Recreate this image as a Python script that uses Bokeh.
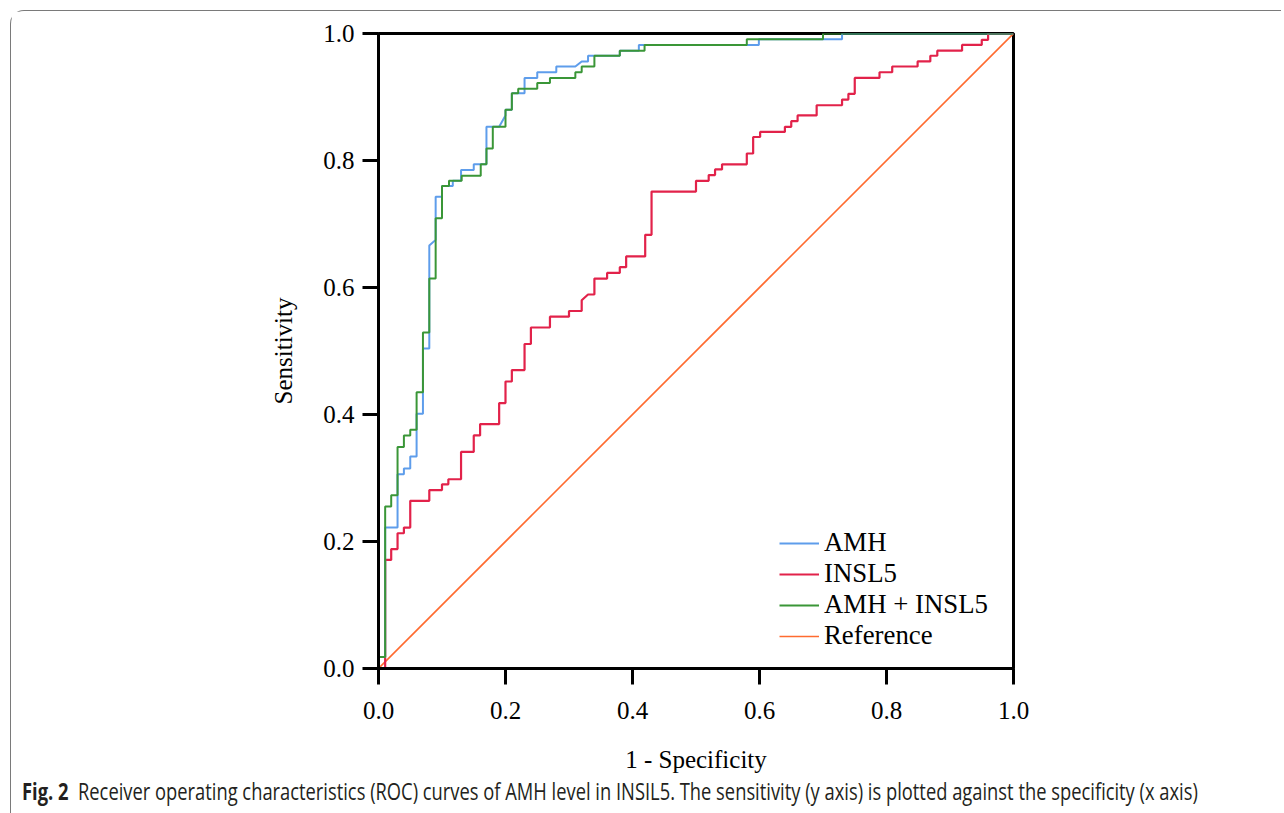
from bokeh.plotting import figure
from bokeh.models import Range1d, FixedTicker, PrintfTickFormatter, Legend, LegendItem, Div
from bokeh.layouts import column
from bokeh.embed import file_html
from bokeh.resources import INLINE

# ---- data (ROC vertices) ----
amh_fpr = [0, 0, 0.0105, 0.0105, 0.030, 0.030, 0.040, 0.040, 0.050, 0.050, 0.060, 0.060,
           0.070, 0.070, 0.080, 0.080, 0.090, 0.090, 0.100, 0.100, 0.117, 0.117, 0.130,
           0.130, 0.150, 0.150, 0.170, 0.170, 0.190, 0.200, 0.200, 0.210, 0.210, 0.230,
           0.230, 0.250, 0.250, 0.280, 0.280, 0.310, 0.320, 0.330, 0.330, 0.380, 0.380,
           0.410, 0.410, 0.599, 0.599, 0.730, 0.730, 1.0]
amh_tpr = [0, 0.018, 0.018, 0.222, 0.222, 0.306, 0.306, 0.315, 0.315, 0.334, 0.334, 0.401,
           0.401, 0.504, 0.504, 0.666, 0.675, 0.743, 0.743, 0.760, 0.760, 0.768, 0.768,
           0.785, 0.785, 0.794, 0.794, 0.853, 0.853, 0.871, 0.880, 0.880, 0.906, 0.906,
           0.930, 0.930, 0.939, 0.939, 0.948, 0.948, 0.956, 0.956, 0.965, 0.965, 0.973,
           0.973, 0.982, 0.982, 0.991, 0.991, 1.0, 1.0]

insl5_fpr = [0, 0.0105, 0.0105, 0.020, 0.020, 0.030, 0.030, 0.040, 0.040, 0.050, 0.050,
             0.080, 0.080, 0.100, 0.100, 0.110, 0.110, 0.130, 0.130, 0.150, 0.150, 0.160,
             0.160, 0.190, 0.190, 0.200, 0.200, 0.210, 0.210, 0.230, 0.230, 0.240, 0.240,
             0.270, 0.270, 0.300, 0.300, 0.320, 0.320, 0.330, 0.340, 0.340, 0.360, 0.360,
             0.380, 0.380, 0.390, 0.390, 0.420, 0.420, 0.430, 0.430, 0.500, 0.500, 0.520,
             0.520, 0.530, 0.530, 0.541, 0.541, 0.580, 0.580, 0.590, 0.590, 0.601, 0.601,
             0.640, 0.640, 0.650, 0.650, 0.660, 0.660, 0.690, 0.690, 0.730, 0.730, 0.740,
             0.740, 0.750, 0.750, 0.789, 0.789, 0.809, 0.809, 0.849, 0.849, 0.869, 0.869,
             0.880, 0.880, 0.919, 0.919, 0.950, 0.950, 0.960, 0.960, 1.0]
insl5_tpr = [0, 0.0, 0.171, 0.171, 0.188, 0.188, 0.213, 0.213, 0.222, 0.222, 0.264,
             0.264, 0.281, 0.281, 0.290, 0.290, 0.298, 0.298, 0.341, 0.341, 0.367, 0.367,
             0.385, 0.385, 0.418, 0.418, 0.452, 0.452, 0.470, 0.470, 0.511, 0.511, 0.537,
             0.537, 0.554, 0.554, 0.563, 0.563, 0.580, 0.589, 0.589, 0.614, 0.614, 0.623,
             0.623, 0.632, 0.632, 0.649, 0.649, 0.683, 0.683, 0.751, 0.751, 0.768, 0.768,
             0.777, 0.777, 0.786, 0.786, 0.794, 0.794, 0.811, 0.811, 0.837, 0.837, 0.845,
             0.845, 0.853, 0.853, 0.862, 0.862, 0.871, 0.871, 0.887, 0.887, 0.896, 0.896,
             0.905, 0.905, 0.930, 0.930, 0.939, 0.939, 0.948, 0.948, 0.956, 0.956, 0.965,
             0.965, 0.973, 0.973, 0.982, 0.982, 0.990, 0.990, 1.0, 1.0]

combo_fpr = [0, 0, 0.0105, 0.0105, 0.020, 0.020, 0.030, 0.030, 0.040, 0.040, 0.050, 0.050,
             0.060, 0.060, 0.070, 0.070, 0.080, 0.080, 0.090, 0.090, 0.100, 0.100, 0.111,
             0.111, 0.131, 0.131, 0.161, 0.161, 0.170, 0.170, 0.180, 0.180, 0.200, 0.200,
             0.210, 0.210, 0.220, 0.220, 0.250, 0.250, 0.270, 0.270, 0.310, 0.310, 0.320,
             0.320, 0.340, 0.340, 0.380, 0.380, 0.419, 0.419, 0.580, 0.580, 0.700, 0.700, 1.0]
combo_tpr = [0, 0.018, 0.018, 0.255, 0.255, 0.273, 0.273, 0.349, 0.349, 0.367, 0.367, 0.376,
             0.376, 0.435, 0.435, 0.529, 0.529, 0.614, 0.614, 0.709, 0.709, 0.760, 0.760,
             0.768, 0.768, 0.776, 0.776, 0.794, 0.794, 0.819, 0.819, 0.853, 0.853, 0.880,
             0.880, 0.906, 0.906, 0.913, 0.913, 0.922, 0.922, 0.930, 0.930, 0.939, 0.939,
             0.948, 0.948, 0.965, 0.965, 0.973, 0.973, 0.982, 0.982, 0.991, 0.991, 1.0, 1.0]

ref_x = [0.0, 1.0]
ref_y = [0.0, 1.0]

series_labels = ["AMH", "INSL5", "AMH + INSL5", "Reference"]
tick_values = [0.0, 0.2, 0.4, 0.6, 0.8, 1.0]
x_title = "1 - Specificity"
y_title = "Sensitivity"
caption_bold = "Fig. 2"
caption_text = ("Receiver operating characteristics (ROC) curves of AMH level in INSIL5. "
                "The sensitivity (y axis) is plotted against the specificity (x axis)")

# ---- figure ----
SERIF = "Liberation Serif"
p = figure(width=1270, height=765, x_range=Range1d(0, 1), y_range=Range1d(0, 1),
           output_backend="svg", toolbar_location=None,
           min_border_left=367, min_border_right=268, min_border_top=22, min_border_bottom=108)
p.xgrid.visible = False
p.ygrid.visible = False
p.outline_line_color = "black"
p.outline_line_width = 3
p.background_fill_color = "white"
p.border_fill_color = "white"

for ax in (p.xaxis[0], p.yaxis[0]):
    ax.ticker = FixedTicker(ticks=tick_values)
    ax.formatter = PrintfTickFormatter(format="%.1f")
    ax.axis_line_width = 3
    ax.axis_line_color = "black"
    ax.major_tick_line_width = 3
    ax.major_tick_line_color = "black"
    ax.major_tick_in = 0
    ax.major_tick_out = 16
    ax.minor_tick_line_color = None
    ax.major_label_text_font = SERIF
    ax.major_label_text_font_size = "25px"
    ax.major_label_text_color = "black"
    ax.axis_label_text_font = SERIF
    ax.axis_label_text_font_size = "25px"
    ax.axis_label_text_font_style = "normal"
    ax.axis_label_text_color = "black"

p.xaxis.axis_label = x_title
p.yaxis.axis_label = y_title
p.xaxis.major_label_standoff = 17
p.xaxis.axis_label_standoff = 24
p.yaxis.major_label_standoff = 8
p.yaxis.axis_label_standoff = 23

colors = ["#5E9DEB", "#E2224A", "#3A9637", "#FF6B30"]

r_ref = p.line(ref_x, ref_y, line_color=colors[3], line_width=1.6)
r_insl5 = p.line(insl5_fpr, insl5_tpr, line_color=colors[1], line_width=2.2)
r_amh = p.line(amh_fpr, amh_tpr, line_color=colors[0], line_width=2)
r_combo = p.line(combo_fpr, combo_tpr, line_color=colors[2], line_width=2)

legend = Legend(items=[
    LegendItem(label=series_labels[0], renderers=[r_amh]),
    LegendItem(label=series_labels[1], renderers=[r_insl5]),
    LegendItem(label=series_labels[2], renderers=[r_combo]),
    LegendItem(label=series_labels[3], renderers=[r_ref]),
], location=(401, 17), orientation="vertical",
    label_text_font=SERIF, label_text_font_size="26.8px", label_text_color="black",
    glyph_width=40, glyph_height=30, label_height=30, spacing=0, padding=0, margin=0,
    label_standoff=5, border_line_alpha=0, background_fill_alpha=0)
p.add_layout(legend)

cap = Div(text=f"<b>{caption_bold}</b>&nbsp;&nbsp;{caption_text}",
          width=1250, height=34,
          styles={"font-family": "'Open Sans', sans-serif", "font-size": "23px",
                  "white-space": "nowrap", "color": "#231f20",
                  "transform": "scaleX(0.797)", "transform-origin": "left center",
                  "margin-left": "10.5px", "margin-top": "2px", "line-height": "26px"})

layout = column(p, cap, styles={"border-top": "1.5px solid #7a7a7a",
                                "border-left": "1.5px solid #7a7a7a",
                                "border-top-left-radius": "14px",
                                "margin-left": "10px", "margin-top": "10px"})

open("out.html", "w").write(file_html(layout, INLINE))
